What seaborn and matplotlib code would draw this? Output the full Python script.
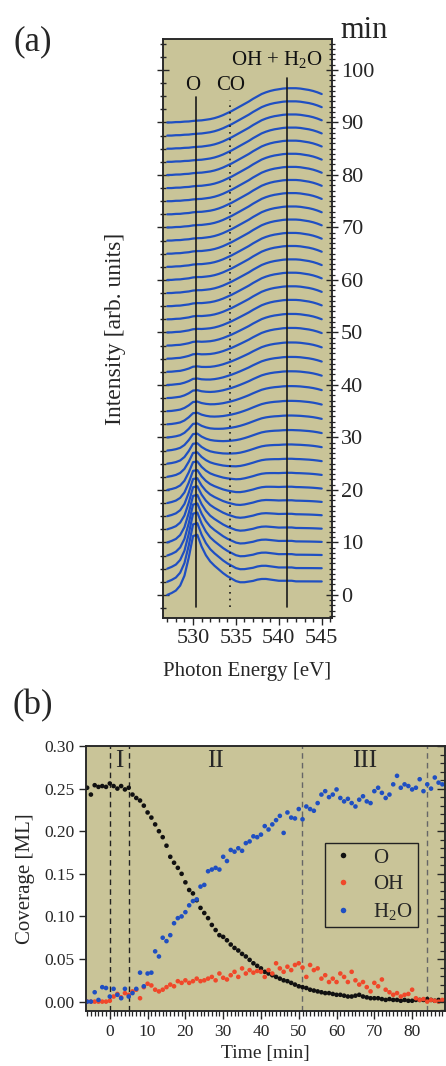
import numpy as np
import pandas as pd
import matplotlib
matplotlib.use("Agg")
import matplotlib.pyplot as plt
import seaborn as sns
from matplotlib.ticker import MultipleLocator, FormatStrFormatter

# ---------------- panel (a): O K-edge spectra ----------------
energy_ev = [527.0, 527.5, 528.0, 528.5, 529.0, 529.5, 530.0, 530.5, 531.0, 531.5,
             532.0, 532.5, 533.0, 533.5, 534.0, 534.5, 535.0, 535.5, 536.0, 536.5,
             537.0, 537.5, 538.0, 538.5, 539.0, 539.5, 540.0, 540.5, 541.0, 541.5,
             542.0, 542.5, 543.0, 543.5, 544.0, 544.5, 545.0]
# normalised O-peak profile (incl. post-edge step)
o_shape = [0.00, 0.03, 0.07, 0.15, 0.31, 0.60, 0.95, 0.97, 0.78, 0.64,
           0.54, 0.47, 0.41, 0.35, 0.30, 0.26, 0.22, 0.20, 0.20, 0.21,
           0.22, 0.24, 0.25, 0.25, 0.24, 0.23, 0.22, 0.22, 0.22, 0.22,
           0.21, 0.21, 0.21, 0.21, 0.21, 0.21, 0.21]
# normalised OH + H2O profile
water_shape = [0.00, 0.00, 0.01, 0.01, 0.02, 0.02, 0.03, 0.04, 0.05, 0.07,
               0.09, 0.12, 0.16, 0.21, 0.27, 0.33, 0.40, 0.47, 0.54, 0.61,
               0.69, 0.76, 0.83, 0.88, 0.92, 0.95, 0.97, 0.99, 1.00, 1.00,
               1.00, 0.99, 0.97, 0.95, 0.92, 0.88, 0.83]
spectrum_time_min = [0, 2.5, 5, 7.5, 10, 12.5, 15, 17.5, 20, 22.5, 25, 27.5, 30,
                     32.5, 35, 37.5, 40, 42.5, 45, 47.5, 50, 52.5, 55, 57.5, 60,
                     62.5, 65, 67.5, 70, 72.5, 75, 77.5, 80, 82.5, 85, 87.5, 90]
# peak heights (in units of the min offset axis) read for each spectrum
o_peak_amp = [11.8, 11.5, 11.0, 10.2, 9.3, 8.4, 7.4, 6.4, 5.5, 4.7, 3.9, 3.2, 2.6,
              2.1, 1.7, 1.35, 1.05, 0.85, 0.7, 0.55, 0.45, 0.4, 0.35, 0.3, 0.3,
              0.25, 0.25, 0.2, 0.2, 0.2, 0.15, 0.15, 0.15, 0.1, 0.1, 0.1, 0.1]
water_peak_amp = [0.1, 0.2, 0.35, 0.55, 0.8, 1.1, 1.4, 1.7, 2.05, 2.4, 2.8, 3.2, 3.6,
                  4.0, 4.4, 4.8, 5.1, 5.4, 5.7, 5.9, 6.1, 6.2, 6.3, 6.35, 6.4,
                  6.4, 6.45, 6.45, 6.5, 6.5, 6.5, 6.5, 6.5, 6.5, 6.5, 6.5, 6.5]

feature_labels = ["O", "CO", "OH + H$_2$O"]
feature_energy_ev = [530.3, 534.3, 540.9]
feature_line_top = [94.9, 94.3, 98.5]
feature_label_pos = [(530.0, 97.1), (534.4, 97.1), (539.8, 101.9)]

# ---------------- panel (b): coverage vs time ----------------
time_min = list(range(-6, 89))
coverage_o = [0.251, 0.243, 0.254, 0.252, 0.253, 0.252, 0.256, 0.253, 0.250, 0.253, 0.249, 0.251,
              0.243, 0.239, 0.236, 0.230, 0.222, 0.216, 0.208, 0.200, 0.193, 0.183,
              0.170, 0.163, 0.157, 0.150, 0.140, 0.131, 0.127, 0.119, 0.110, 0.104,
              0.098, 0.090, 0.084, 0.078, 0.076, 0.072, 0.067, 0.063, 0.060, 0.056,
              0.053, 0.049, 0.045, 0.042, 0.039, 0.035, 0.033, 0.031, 0.029, 0.027,
              0.025, 0.024, 0.022, 0.020, 0.018, 0.017, 0.016, 0.014, 0.013, 0.012,
              0.011, 0.010, 0.010, 0.009, 0.008, 0.008, 0.007, 0.006, 0.006, 0.007,
              0.008, 0.006, 0.005, 0.004, 0.004, 0.004, 0.003, 0.002, 0.003, 0.002,
              0.002, 0.001, 0.002, 0.001, 0.001, 0.002, 0.002, 0.002, 0.003, 0.002,
              0.001, 0.002, 0.001]
coverage_oh = [0.000, 0.000, 0.000, 0.000, 0.000, 0.000, 0.001, 0.006, 0.009, 0.005, 0.010, 0.008,
               0.012, 0.014, 0.004, 0.017, 0.021, 0.019, 0.014, 0.012, 0.014, 0.017,
               0.020, 0.018, 0.024, 0.022, 0.025, 0.022, 0.024, 0.027, 0.024, 0.025,
               0.027, 0.029, 0.025, 0.033, 0.028, 0.026, 0.031, 0.035, 0.029, 0.039,
               0.033, 0.037, 0.034, 0.036, 0.035, 0.029, 0.037, 0.033, 0.045, 0.039,
               0.035, 0.041, 0.037, 0.043, 0.045, 0.040, 0.029, 0.043, 0.037, 0.039,
               0.027, 0.031, 0.023, 0.027, 0.023, 0.033, 0.029, 0.023, 0.035, 0.025,
               0.020, 0.023, 0.017, 0.012, 0.022, 0.018, 0.026, 0.014, 0.011, 0.008,
               0.010, 0.006, 0.008, 0.009, 0.014, 0.004, 0.002, 0.003, 0.000, 0.002,
               0.001, 0.000, 0.002]
coverage_h2o = [0.000, 0.000, 0.011, 0.002, 0.017, 0.016, 0.006, 0.015, 0.008, 0.004, 0.015, 0.006,
                0.010, 0.015, 0.034, 0.018, 0.033, 0.034, 0.059, 0.053, 0.075, 0.071,
                0.078, 0.092, 0.098, 0.100, 0.105, 0.113, 0.118, 0.120, 0.135, 0.137,
                0.153, 0.155, 0.157, 0.155, 0.170, 0.165, 0.178, 0.176, 0.180, 0.177,
                0.186, 0.188, 0.194, 0.193, 0.196, 0.206, 0.202, 0.208, 0.213, 0.218,
                0.198, 0.222, 0.216, 0.215, 0.226, 0.214, 0.229, 0.226, 0.224, 0.233,
                0.243, 0.247, 0.240, 0.243, 0.249, 0.239, 0.235, 0.238, 0.233, 0.229,
                0.237, 0.241, 0.235, 0.233, 0.247, 0.251, 0.245, 0.239, 0.243, 0.255,
                0.265, 0.251, 0.255, 0.253, 0.249, 0.251, 0.261, 0.247, 0.255, 0.250,
                0.263, 0.257, 0.255]
species = ["O", "OH", "H$_2$O"]
species_colors = ["#111111", "#f0482a", "#1f4fc2"]
region_bounds_min = [0, 5.2, 50.8, 83.9]
region_bound_colors = ["#222222", "#222222", "#666666", "#666666"]
region_names = ["I", "II", "III"]
region_label_time = [2.4, 28.0, 67.4]

# ---------------- style ----------------
sns.set_theme(style="ticks")
plt.rcParams['font.family'] = ['Liberation Serif', 'DejaVu Serif']
plt.rcParams['mathtext.fontset'] = 'custom'
plt.rcParams['mathtext.rm'] = 'Liberation Serif'
plt.rcParams['mathtext.it'] = 'Liberation Serif:italic'
plt.rcParams['axes.linewidth'] = 1.1
BG = "#c9c498"
BLUE = "#1f4fc2"

W, H = 446, 1066
fig = plt.figure(figsize=(W / 100, H / 100), dpi=100)

# ---------------- panel (a) ----------------
axa = fig.add_axes([163 / W, 1 - 618 / H, 169 / W, 579 / H])
axa.set_facecolor(BG)
rows = []
for t, oa, wa in zip(spectrum_time_min, o_peak_amp, water_peak_amp):
    for e, so, sw in zip(energy_ev, o_shape, water_shape):
        rows.append((t, e, t + oa * so + wa * sw))
spec = pd.DataFrame(rows, columns=["time", "energy", "signal"])
sns.lineplot(data=spec, x="energy", y="signal", units="time", estimator=None,
             color=BLUE, lw=1.6, ax=axa, legend=False, sort=False)

styles = ["-", (0, (1, 3)), "-"]
for e, top, ls in zip(feature_energy_ev, feature_line_top, styles):
    axa.plot([e, e], [-2.3, top], color="#1a1a1a", lw=1.2, ls=ls)
for lab, (x, y) in zip(feature_labels, feature_label_pos):
    axa.text(x, y, lab, ha="center", va="center", fontsize=15, color="#111111")

axa.set_xlim(526.5, 546.2)
axa.set_ylim(-4.4, 105.9)
axa.xaxis.set_major_locator(MultipleLocator(5))
axa.xaxis.set_minor_locator(MultipleLocator(1))
axa.yaxis.set_major_locator(MultipleLocator(10))
axa.yaxis.set_minor_locator(MultipleLocator(2.5))
axa.tick_params(axis="x", which="major", direction="out", length=5, width=1, labelsize=16, pad=3)
axa.tick_params(axis="x", which="minor", direction="out", length=3, width=1)
axa.tick_params(axis="y", which="major", direction="inout", length=9, width=1, labelleft=False)
axa.tick_params(axis="y", which="minor", direction="inout", length=5, width=1)
axa.set_xlabel("Photon Energy [eV]", fontsize=15, labelpad=10)
axa.set_ylabel("Intensity [arb. units]", fontsize=17, labelpad=22)

axr = axa.twinx()
axr.set_ylim(axa.get_ylim())
axr.yaxis.set_major_locator(MultipleLocator(10))
axr.yaxis.set_minor_locator(MultipleLocator(1))
axr.tick_params(axis="y", which="major", direction="inout", length=9, width=1, labelsize=16, pad=2)
axr.tick_params(axis="y", which="minor", direction="inout", length=5, width=0.9)
fig.text(364 / W, 1 - 31 / H, "min", ha="center", va="center", fontsize=22)
fig.text(33 / W, 1 - 42 / H, "(a)", ha="center", va="center", fontsize=25)

# ---------------- panel (b) ----------------
axb = fig.add_axes([86 / W, 1 - 1011 / H, 359 / W, 265 / H])
axb.set_facecolor(BG)
cov = pd.DataFrame({
    "time": time_min * 3,
    "coverage": coverage_o + coverage_oh + coverage_h2o,
    "species": [species[0]] * len(time_min) + [species[1]] * len(time_min) + [species[2]] * len(time_min),
})
for x, c in zip(region_bounds_min, region_bound_colors):
    axb.axvline(x, color=c, lw=1.0, ls=(0, (4, 3)), zorder=1)
sns.scatterplot(data=cov, x="time", y="coverage", hue="species", hue_order=species,
                palette=dict(zip(species, species_colors)), s=11, linewidth=0,
                ax=axb, zorder=3)
for name, t in zip(region_names, region_label_time):
    axb.text(t, 0.282, name, ha="center", va="center", fontsize=18)

axb.set_xlim(-6.3, 88.7)
axb.set_ylim(-0.011, 0.30)
axb.xaxis.set_major_locator(MultipleLocator(10))
axb.xaxis.set_minor_locator(MultipleLocator(1))
axb.yaxis.set_major_locator(MultipleLocator(0.05))
axb.yaxis.set_major_formatter(FormatStrFormatter("%.2f"))
axb.tick_params(axis="x", which="major", direction="out", length=6, width=1, labelsize=12.5, pad=3)
axb.tick_params(axis="x", which="minor", direction="out", length=3.5, width=0.9)
axb.tick_params(axis="y", which="major", direction="out", length=5, width=1, labelsize=12.5, pad=3)
axb.set_xlabel("Time [min]", fontsize=14, labelpad=4)
axb.set_ylabel("Coverage [ML]", fontsize=15, labelpad=7)

axbr = axb.twinx()
axbr.set_ylim(axb.get_ylim())
axbr.yaxis.set_major_locator(MultipleLocator(0.05))
axbr.yaxis.set_minor_locator(MultipleLocator(0.01))
axbr.tick_params(axis="y", which="major", direction="in", length=6, width=1, labelright=False)
axbr.tick_params(axis="y", which="minor", direction="in", length=3.5, width=0.9)

handles, labels = axb.get_legend_handles_labels()
leg = axb.legend(handles, labels, loc="upper left", bbox_to_anchor=(0.666, 0.634),
                 borderaxespad=0, frameon=True, fancybox=False, edgecolor="#222222",
                 facecolor=BG, framealpha=1, fontsize=15, markerscale=1.2,
                 handletextpad=0.85, labelspacing=0.33, borderpad=0.25,
                 handlelength=1.2)
leg.get_frame().set_linewidth(1.0)
fig.text(33 / W, 1 - 706 / H, "(b)", ha="center", va="center", fontsize=25)

fig.savefig("out.png", dpi=100)
